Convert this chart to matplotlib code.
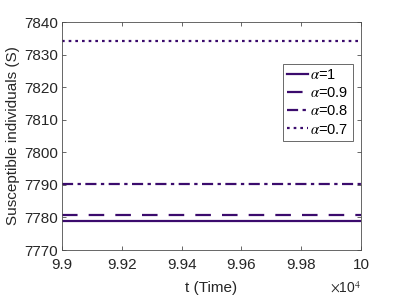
import matplotlib
matplotlib.use("Agg")
import matplotlib.pyplot as plt
import numpy as np

plt.rcParams['font.family'] = ['Liberation Sans', 'DejaVu Sans']
plt.rcParams['mathtext.fontset'] = 'stix'

t = np.array([99000, 100000])
labels = [r'$\alpha$=1', r'$\alpha$=0.9', r'$\alpha$=0.8', r'$\alpha$=0.7']
S_alpha1 = [7778.9, 7778.9]
S_alpha09 = [7780.7, 7780.7]
S_alpha08 = [7790.2, 7790.2]
S_alpha07 = [7834.2, 7834.2]
xticks = [99000, 99200, 99400, 99600, 99800, 100000]
yticks = [7770, 7780, 7790, 7800, 7810, 7820, 7830, 7840]

color = '#3b0b6d'
fig = plt.figure(figsize=(3.99, 2.99), dpi=100)
ax = fig.add_axes([62/399, 1-250/299, 299/399, 228/299])

ax.plot(t, S_alpha1, '-', color=color, lw=1.6, label=labels[0])
ax.plot(t, S_alpha09, color=color, lw=1.6, dashes=(7, 5), label=labels[1])
ax.plot(t, S_alpha08, color=color, lw=1.6, dashes=(5, 2, 1.5, 2), label=labels[2])
ax.plot(t, S_alpha07, color=color, lw=1.6, dashes=(1.2, 1.8), label=labels[3])

ax.set_xlim(99000, 100000)
ax.set_ylim(7770, 7840)
ax.set_xticks(xticks)
ax.set_xticklabels(['%g' % (v / 1e4) for v in xticks])
ax.set_yticks(yticks)
ax.tick_params(direction='in', top=True, right=True, labelsize=11,
               color='#4d4d4d', labelcolor='#262626', length=3, width=0.6)
ax.tick_params(axis='x', pad=6)
ax.tick_params(axis='y', pad=3)
for s in ax.spines.values():
    s.set_color('#4d4d4d')
    s.set_linewidth(0.6)

ax.set_xlabel('t (Time)', fontsize=11, color='#262626', labelpad=6)
ax.set_ylabel('Susceptible individuals (S)', fontsize=11, color='#262626', labelpad=3)
ax.text(1.0, -0.165, r'$\times$10$^{4}$', transform=ax.transAxes, ha='right', va='center',
        fontsize=10, color='#262626', family=['Liberation Sans', 'DejaVu Sans'])

leg = ax.legend(loc='upper left', bbox_to_anchor=(0.739, 0.816), fontsize=10.5,
                frameon=True, fancybox=False, edgecolor='#262626', handlelength=1.4,
                handletextpad=0.15, borderpad=0.3, labelspacing=0.28, borderaxespad=0)
leg.get_frame().set_linewidth(0.6)

fig.savefig('out.png', dpi=100)
